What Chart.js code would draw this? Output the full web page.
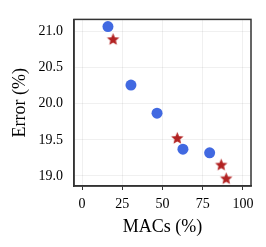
<!DOCTYPE html>
<html>
<head>
<meta charset="utf-8">
<script src="https://cdn.jsdelivr.net/npm/chart.js@4/dist/chart.umd.min.js"></script>
<style>
  html, body { margin: 0; padding: 0; background: #fff; }
  #wrap { width: 266px; height: 247px; }
</style>
</head>
<body>
<div id="wrap"><canvas id="chart" width="266" height="247"></canvas></div>
<script>
// Werte
const circleMacs = [16.1, 30.4, 46.6, 62.7, 79.3];
const circleError = [21.07, 20.26, 19.87, 19.37, 19.32];
const starMacs = [19.3, 59.2, 86.5, 89.6];
const starError = [20.89, 19.52, 19.15, 18.96];
const xTicks = [0, 25, 50, 75, 100];
const yTicks = [19.0, 19.5, 20.0, 20.5, 21.0];

// gefuellter fuenfzackiger Stern als Punktstil
function makeStar(r, color) {
    const c = document.createElement("canvas");
    c.width = c.height = r * 2 + 2;
    const g = c.getContext("2d");
    g.translate(r + 1, r + 1);
    g.beginPath();
    for (let i = 0; i < 10; i++) {
        const rad = i % 2 === 0 ? r : r * 0.45;
        const a = -Math.PI / 2 + i * Math.PI / 5;
        g.lineTo(rad * Math.cos(a), rad * Math.sin(a));
    }
    g.closePath();
    g.fillStyle = color;
    g.fill();
    return c;
}

const font = "'Liberation Serif', 'DejaVu Serif', serif";
const starImg = makeStar(6.5, "#b22222");

new Chart(document.getElementById("chart"), {
    type: "scatter",
    data: {
        datasets: [
            {
                data: circleMacs.map((x, i) => ({ x: x, y: circleError[i] })),
                backgroundColor: "#4169e1",
                borderWidth: 0,
                pointRadius: 5.5,
            },
            {
                data: starMacs.map((x, i) => ({ x: x, y: starError[i] })),
                pointStyle: starImg,
                pointRadius: 6.5,
            },
        ],
    },
    options: {
        responsive: false,
        animation: false,
        layout: { padding: { top: 11, right: 15, left: 5, bottom: 5 } },
        plugins: { legend: { display: false }, tooltip: { enabled: false } },
        scales: {
            x: {
                type: "linear",
                min: -5,
                max: 105,
                afterBuildTicks: (s) => { s.ticks = xTicks.map((v) => ({ value: v })); },
                afterFit: (s) => { s.height = 56; },
                ticks: { color: "#000", font: { family: font, size: 14 }, padding: 6 },
                grid: { color: "rgba(0,0,0,0.06)", tickLength: 4, tickColor: "#333" },
                border: { color: "#333", width: 1.5 },
                title: { display: true, text: "MACs (%)", color: "#000", font: { family: font, size: 18 } },
            },
            y: {
                type: "linear",
                min: 18.86,
                max: 21.17,
                afterBuildTicks: (s) => { s.ticks = yTicks.map((v) => ({ value: v })); },
                afterFit: (s) => { s.width = 69; },
                ticks: { color: "#000", font: { family: font, size: 14 }, padding: 11, callback: (v) => v.toFixed(1) },
                grid: { color: "rgba(0,0,0,0.06)", drawTicks: false },
                border: { color: "#333", width: 1.5 },
                title: { display: true, text: "Error (%)", color: "#000", font: { family: font, size: 18 } },
            },
        },
    },
    plugins: [{
        id: "rahmen",
        afterDraw(chart) {
            const a = chart.chartArea, ctx = chart.ctx;
            ctx.save();
            ctx.strokeStyle = "#333";
            ctx.lineWidth = 1.5;
            ctx.strokeRect(a.left, a.top, a.right - a.left, a.bottom - a.top);
            ctx.restore();
        },
    }],
});
</script>
</body>
</html>
